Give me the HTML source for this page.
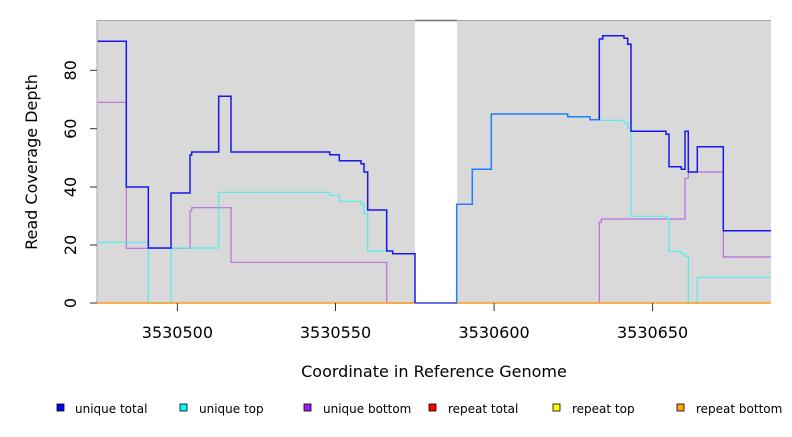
<!DOCTYPE html>
<html><head><meta charset="utf-8"><style>
body{margin:0;background:#fff;width:792px;height:432px;overflow:hidden}
text{font-family:"DejaVu Sans","Liberation Sans",sans-serif;fill:#000}
</style></head><body>
<svg width="792" height="432" xmlns="http://www.w3.org/2000/svg">
<rect x="97" y="20.5" width="318" height="282.5" fill="#d9d9d9"/>
<rect x="457" y="20.5" width="314" height="282.5" fill="#d9d9d9"/>
<line x1="97" y1="20.5" x2="771" y2="20.5" stroke="#aaa" stroke-width="1"/>
<line x1="415" y1="20.5" x2="457" y2="20.5" stroke="#777" stroke-width="1.5"/>
<line x1="97" y1="20" x2="97" y2="303" stroke="#aaa"/>
<!-- purple -->
<polyline fill="none" stroke="#b86fe0" stroke-width="1.2" points="97.7,102.3 126.3,102.3 126.3,248.3 190,248.3 190,210.7 191.7,210.7 191.7,207.7 231,207.7 231,262.3 386.7,262.3 386.7,303 415,303"/>
<polyline fill="none" stroke="#b86fe0" stroke-width="1.2" points="599.3,303 599.3,222.3 601.3,222.3 601.3,219 685,219 685,178.3 688.3,178.3 688.3,172 723.3,172 723.3,257 771,257"/>
<!-- cyan -->
<polyline fill="none" stroke="#4deeee" stroke-width="1.2" points="97.7,242.3 148.3,242.3 148.3,303 171,303 171,248 218.7,248 218.7,192.3 329.7,192.3 329.7,195.3 339.3,195.3 339.3,201.3 361,201.3 361,204 364,204 364,213.3 367.7,213.3 367.7,251 386.7,251"/>
<polyline fill="none" stroke="#4deeee" stroke-width="1.2" points="599.3,120.3 624,120.3 624,123 627.7,123 627.7,128.3 631,128.3 631,216.3 666.7,216.3 666.7,219 669,219 669,251.3 681.3,251.3 681.3,253.7 685,253.7 685,256.3 688.3,256.3 688.3,303 697.3,303 697.3,277.3 771,277.3"/>
<!-- baseline -->
<line x1="97" y1="303" x2="771" y2="303" stroke="#ff9a1a" stroke-width="1.5"/>
<line x1="415" y1="303" x2="457" y2="303" stroke="#3355ff" stroke-width="1.5"/>
<!-- blue -->
<polyline fill="none" stroke="#1818ee" stroke-width="1.5" points="97.7,41.3 126.3,41.3 126.3,187 148.3,187 148.3,248 171,248 171,193 190,193 190,155 191.7,155 191.7,152 218.7,152 218.7,96.3 231,96.3 231,152 329.7,152 329.7,154.7 339.3,154.7 339.3,160.7 361,160.7 361,163.7 364,163.7 364,172 367.7,172 367.7,210 386.7,210 386.7,251 392.7,251 392.7,253.7 415,253.7 415,303"/>
<polyline fill="none" stroke="#1e7fff" stroke-width="1.5" points="456.7,303 456.7,204.3 472.3,204.3 472.3,169.3 491.3,169.3 491.3,114 567.7,114 567.7,116.7 590,116.7 590,119.7 599.3,119.7"/>
<polyline fill="none" stroke="#1818ee" stroke-width="1.5" points="599.3,119.7 599.3,39 602.7,39 602.7,35.7 624,35.7 624,38.3 627.7,38.3 627.7,44.3 631,44.3 631,131.3 666,131.3 666,134.3 669,134.3 669,166.7 681.3,166.7 681.3,169.3 685,169.3 685,131.3 688.3,131.3 688.3,172 697.3,172 697.3,146.7 723.3,146.7 723.3,230.7 771,230.7"/>
<!-- axes ticks -->
<g stroke="#333" stroke-width="1">
<line x1="90" y1="303" x2="97" y2="303"/><line x1="90" y1="245" x2="97" y2="245"/><line x1="90" y1="187" x2="97" y2="187"/><line x1="90" y1="128.7" x2="97" y2="128.7"/><line x1="90" y1="70.3" x2="97" y2="70.3"/>
<line x1="177.4" y1="303" x2="177.4" y2="311"/><line x1="335.5" y1="303" x2="335.5" y2="311"/><line x1="494.1" y1="303" x2="494.1" y2="311"/><line x1="652.6" y1="303" x2="652.6" y2="311"/>
</g>
<g font-size="16" text-anchor="middle">
<text transform="translate(76,303) rotate(-90)">0</text>
<text transform="translate(76,245) rotate(-90)">20</text>
<text transform="translate(76,187) rotate(-90)">40</text>
<text transform="translate(76,128.7) rotate(-90)">60</text>
<text transform="translate(76,70.3) rotate(-90)">80</text>
<text x="177.4" y="338">3530500</text>
<text x="335.5" y="338">3530550</text>
<text x="494.1" y="338">3530600</text>
<text x="652.6" y="338">3530650</text>
<text x="434" y="377">Coordinate in Reference Genome</text>
<text transform="translate(37,162) rotate(-90)">Read Coverage Depth</text>
</g>
<g font-size="12" stroke="#000" stroke-width="0.8">
<rect x="57" y="404" width="7" height="7" fill="#0000ff"/>
<rect x="180" y="404" width="7" height="7" fill="#00ffff"/>
<rect x="304" y="404" width="7" height="7" fill="#a020f0"/>
<rect x="429" y="404" width="7" height="7" fill="#ff0000"/>
<rect x="553" y="404" width="7" height="7" fill="#ffff00"/>
<rect x="677" y="404" width="7" height="7" fill="#ffa500"/>
</g>
<g font-size="12">
<text x="75" y="413">unique total</text>
<text x="199" y="413">unique top</text>
<text x="323" y="413">unique bottom</text>
<text x="448" y="413">repeat total</text>
<text x="572" y="413">repeat top</text>
<text x="696" y="413">repeat bottom</text>
</g>
</svg>
</body></html>
